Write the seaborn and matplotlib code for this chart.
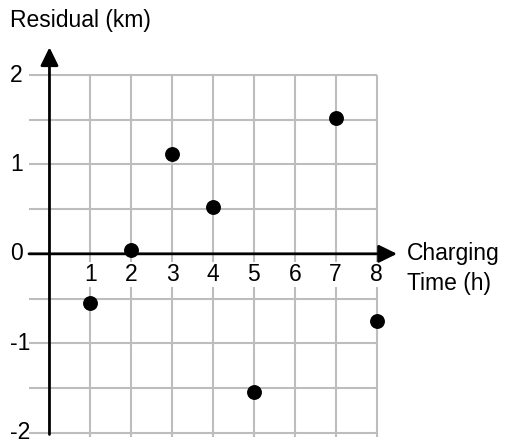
import matplotlib
matplotlib.use('Agg')
import matplotlib.pyplot as plt
import seaborn as sns

# residual data
charge_hours = [1, 2, 3, 4, 5, 7, 8]
residuals = [-0.55, 0.04, 1.12, 0.52, -1.54, 1.52, -0.75]

x_ticks = [1, 2, 3, 4, 5, 6, 7, 8]
y_ticks = [2, 1, 0, -1, -2]
grid_y = [-2, -1.5, -1, -0.5, 0, 0.5, 1, 1.5, 2]

sns.set_theme(style='white')
plt.rcParams['font.family'] = ['Liberation Sans', 'DejaVu Sans']

fig = plt.figure(figsize=(5.07, 4.43), dpi=100)
ax = fig.add_axes([0, 0, 1, 1])
ax.set_xlim(-1.21, 11.19)
ax.set_ylim(-2.116, 2.839)
ax.axis('off')

# grid
ax.vlines(x_ticks, -2.05, 2, color='#bdbdbd', lw=1.5, zorder=1)
ax.hlines(grid_y, -0.5, 8, color='#bdbdbd', lw=1.5, zorder=1)

# axes with arrows
arrow = dict(arrowstyle='-|>,head_length=0.55,head_width=0.27', color='black',
             lw=2, shrinkA=0, shrinkB=0, mutation_scale=20)
ax.annotate('', xy=(0, 2.31), xytext=(0, -2.02), arrowprops=arrow, zorder=3)
ax.annotate('', xy=(8.5, 0), xytext=(-0.5, 0), arrowprops=arrow, zorder=3)

fs = 16.5
for x in x_ticks:
    ax.text(x, -0.23, str(x), ha='center', va='center', fontsize=fs, color='black',
            bbox=dict(facecolor='white', edgecolor='none', pad=1), zorder=2)
for y in y_ticks:
    ax.text(-0.966, y, str(y), ha='left', va='center', fontsize=fs, color='black')

ax.text(-0.966, 2.615, 'Residual (km)', ha='left', va='center', fontsize=fs, color='black')
ax.text(8.74, 0.0, 'Charging', ha='left', va='center', fontsize=fs, color='black')
ax.text(8.74, -0.33, 'Time (h)', ha='left', va='center', fontsize=fs, color='black')

sns.scatterplot(x=charge_hours, y=residuals, s=115, color='black', linewidth=0,
                zorder=5, ax=ax, legend=False)

fig.savefig('out.png', dpi=100)
